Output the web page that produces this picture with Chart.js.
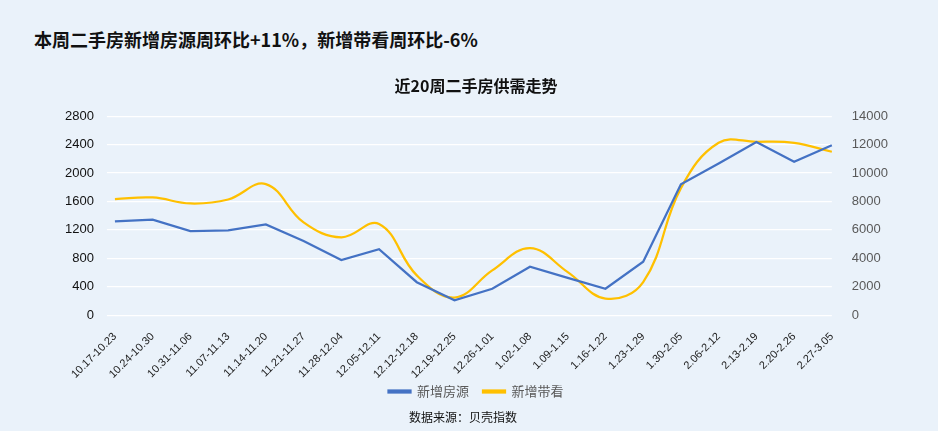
<!DOCTYPE html>
<html><head><meta charset="utf-8">
<script src="https://cdn.jsdelivr.net/npm/chart.js@4.4.1/dist/chart.umd.min.js"></script>
<style>
html,body{margin:0;padding:0;background:#EAF2FA;}
#wrap{position:relative;width:938px;height:431px;overflow:hidden;background:#EAF2FA;}
#title{position:absolute;left:34px;top:26px;font:bold 18px "Noto Sans CJK SC","Liberation Sans",sans-serif;color:#111;white-space:nowrap;}
#src{position:absolute;left:0;width:938px;top:408px;text-align:center;font:12px "Noto Sans CJK SC",sans-serif;color:#111;margin-left:-6px;}
canvas{position:absolute;left:0;top:0;}
</style></head>
<body><div id="wrap">
<div id="title">本周二手房新增房源周环比+11%，新增带看周环比-6%</div>
<canvas id="c" width="938" height="431"></canvas>
<div id="src">数据来源：贝壳指数</div>
</div>
<script>
const categories = ["10.17-10.23","10.24-10.30","10.31-11.06","11.07-11.13","11.14-11.20","11.21-11.27","11.28-12.04","12.05-12.11","12.12-12.18","12.19-12.25","12.26-1.01","1.02-1.08","1.09-1.15","1.16-1.22","1.23-1.29","1.30-2.05","2.06-2.12","2.13-2.19","2.20-2.26","2.27-3.05"];
const newListings = [1320,1345,1184,1193,1277,1045,776,929,464,209,371,682,525,371,752,1843,2135,2437,2159,2391];
const newViewings = [8170,8280,7860,8140,9220,6530,5480,6420,2800,1240,3150,4710,3030,1170,2330,8940,12130,12200,12130,11500];
const leftTicks = [0,400,800,1200,1600,2000,2400,2800];
const rightTicks = [0,2000,4000,6000,8000,10000,12000,14000];

const fontNum = '"Liberation Sans","Noto Sans CJK SC",sans-serif';
const noLabelClip = {
  id:'noLabelClip',
  beforeDraw(chart){ const xs = chart.scales.x; if (xs) xs._computeLabelArea = () => undefined; }
};
new Chart(document.getElementById('c'), {
  type: 'line',
  data: {
    labels: categories,
    datasets: [
      {label:'新增房源', data:newListings, yAxisID:'y', borderColor:'#4472C4', backgroundColor:'#4472C4', borderWidth:2.25, pointRadius:0, tension:0, fill:false},
      {label:'新增带看', data:newViewings, yAxisID:'y1', borderColor:'#FFC000', backgroundColor:'#FFC000', borderWidth:2.25, pointRadius:0, tension:0.4, fill:false}
    ]
  },
  plugins:[noLabelClip],
  options: {
    responsive:false, animation:false,
    layout:{padding:{left:52,right:38,top:76,bottom:23}},
    plugins:{
      title:{display:true,text:'近20周二手房供需走势',font:{family:'"Noto Sans CJK SC",sans-serif',size:16,weight:'bold'},color:'#111',padding:{top:0,bottom:21}},
      legend:{position:'bottom',labels:{boxWidth:22,boxHeight:2,padding:14,color:'#595959',font:{family:'"Noto Sans CJK SC",sans-serif',size:13}}},
      tooltip:{enabled:false}
    },
    scales:{
      x:{grid:{display:false},border:{display:false},afterFit:s=>{s.height-=17;},ticks:{minRotation:45,maxRotation:45,autoSkip:false,color:'#222',font:{family:fontNum,size:11},padding:7}},
      y:{position:'left',min:0,max:2800,afterBuildTicks:a=>{a.ticks=leftTicks.map(v=>({value:v}));},grid:{color:'#FFFFFF',lineWidth:1.2},border:{display:false},ticks:{color:'#111',font:{family:fontNum,size:13},padding:13,callback:v=>String(v)}},
      y1:{position:'right',min:0,max:14000,afterBuildTicks:a=>{a.ticks=rightTicks.map(v=>({value:v}));},grid:{display:false},border:{display:false},ticks:{color:'#595959',font:{family:fontNum,size:13},padding:12,callback:v=>String(v)}}
    }
  }
});
</script>
</body></html>
